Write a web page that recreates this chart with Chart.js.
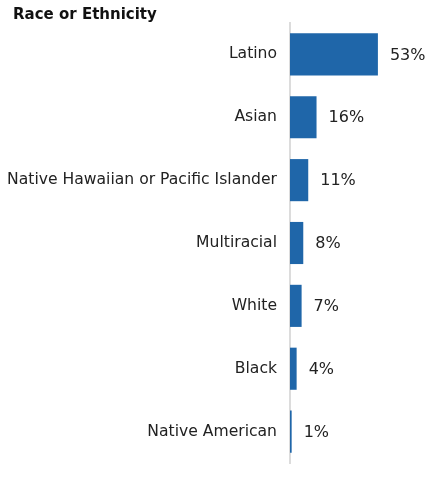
<!DOCTYPE html>
<html lang="en">
<head>
    <meta charset="UTF-8">
    <title>Race or Ethnicity</title>
    <script src="https://cdn.jsdelivr.net/npm/chart.js"></script>
    <style>
        body, html {
            margin: 0;
            padding: 0;
            background: #fff;
        }
        .wrap {
            position: relative;
            width: 436px;
            height: 503px;
        }
        .wrap h1 {
            position: absolute;
            left: 13px;
            top: 5px;
            margin: 0;
            font: bold 15px "DejaVu Sans", Verdana, sans-serif;
            line-height: 18px;
            color: #111;
        }
        #chart {
            display: block;
        }
    </style>
</head>
<body>
    <div class="wrap">
        <h1>Race or Ethnicity</h1>
        <canvas id="chart" width="436" height="503"></canvas>
    </div>
    <script>
        const groups = ['Latino', 'Asian', 'Native Hawaiian or Pacific Islander', 'Multiracial', 'White', 'Black', 'Native American'];
        const shares = [53, 16, 11, 8, 7, 4, 1];

        // writes the "53%" style labels just right of each bar
        const valueLabels = {
            id: 'valueLabels',
            afterDatasetsDraw(chart) {
                const ctx = chart.ctx;
                const meta = chart.getDatasetMeta(0);
                ctx.save();
                ctx.font = '16px "DejaVu Sans", Verdana, sans-serif';
                ctx.fillStyle = '#222';
                ctx.textBaseline = 'middle';
                meta.data.forEach((bar, i) => {
                    ctx.fillText(shares[i] + '%', bar.x + 12, bar.y + 1);
                });
                ctx.restore();
            }
        };

        new Chart(document.getElementById('chart'), {
            type: 'bar',
            data: {
                labels: groups,
                datasets: [{
                    data: shares,
                    backgroundColor: '#1f66a9',
                    barPercentage: 0.67,
                    categoryPercentage: 1
                }]
            },
            options: {
                indexAxis: 'y',
                responsive: false,
                animation: false,
                layout: { padding: { left: 0, right: 10, bottom: 40, top: 23 } },
                plugins: {
                    legend: { display: false },
                    tooltip: { enabled: false }
                },
                scales: {
                    x: {
                        display: false,
                        min: 0,
                        max: 82
                    },
                    y: {
                        grid: { display: false, drawTicks: false },
                        border: { display: true, color: '#dcdcdc', width: 2 },
                        ticks: {
                            color: '#222',
                            padding: 13,
                            font: { family: '"DejaVu Sans", Verdana, sans-serif', size: 15.6 }
                        },
                        afterFit(scale) {
                            scale.width = 290;
                        }
                    }
                }
            },
            plugins: [valueLabels]
        });
    </script>
</body>
</html>
